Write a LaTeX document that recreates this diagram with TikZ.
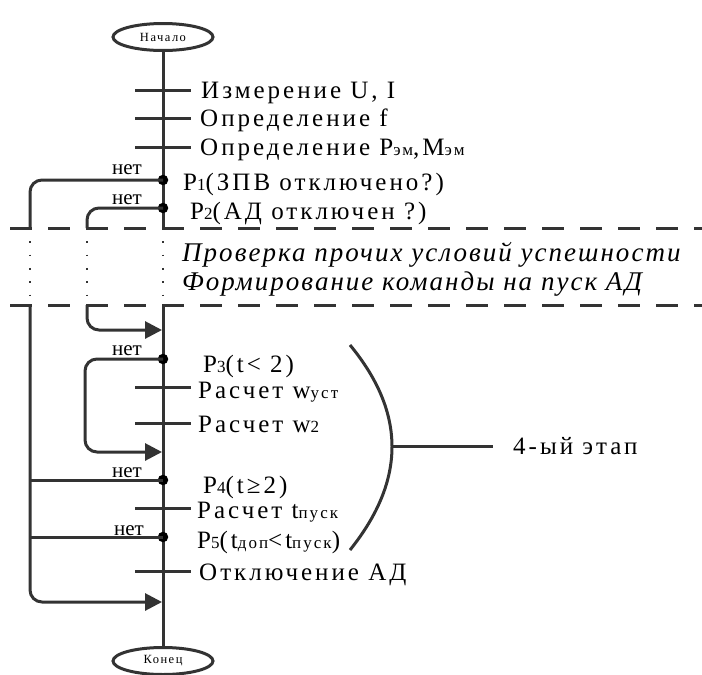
\documentclass[tikz,border=0pt]{standalone}
\usepackage{fontspec}
\setmainfont{Liberation Serif}
\newfontfamily\spc[LetterSpace=12]{Liberation Serif}
\newfontfamily\spit[LetterSpace=7.5]{Liberation Serif Italic}
\usetikzlibrary{arrows.meta,shapes.geometric}
\definecolor{ink}{HTML}{333333}
\newcommand\sbs[1]{{\fontsize{17}{17}\selectfont #1}}
\begin{document}
\begin{tikzpicture}[x=1pt,y=-1pt,
  ln/.style={line width=3pt, draw=ink},
  dotl/.style={line width=1.8pt, draw=ink, dash pattern=on 1.8pt off 11.5pt},
  dashl/.style={line width=3pt, draw=ink, dash pattern=on 22pt off 16pt, dash phase=28pt},
  arr/.style={-{Triangle[length=17pt,width=17pt]}},
  oval/.style={draw=ink, line width=3pt, ellipse, minimum width=100pt, minimum height=27pt, inner sep=0pt, font=\spc\fontsize{12.5}{12.5}\selectfont},
  dotn/.style={circle, fill=black, inner sep=0pt, minimum size=10.5pt},
  lbl/.style={anchor=base west, inner sep=0pt, font=\spc\fontsize{25}{25}\selectfont},
  net/.style={anchor=base, inner sep=0pt, font=\fontsize{21}{21}\selectfont},
  itl/.style={anchor=base west, inner sep=0pt, font=\spit\fontsize{27}{27}\selectfont},
  rc/.style={rounded corners=12pt}
]
\useasboundingbox (0,0) rectangle (702,675);
% terminals
\node[oval] (start) at (163,37) {Начало};
\node[oval] (stop) at (163,661) {Конец};
% main line
\coordinate (m1) at (163,228);
\coordinate (m2) at (163,305);
\draw[ln] (start) -- (m1);
\draw[dotl] (m1) -- (m2);
\draw[ln] (m2) -- (stop);
% dashed separators
\coordinate (d1a) at (0,228); \coordinate (d1b) at (702,228);
\coordinate (d2a) at (0,305); \coordinate (d2b) at (702,305);
\draw[dashl] (d1a) -- (d1b);
\draw[dashl] (d2a) -- (d2b);
% ticks
\foreach \y/\n in {90/ta,118/tb,147/tc,387/td,423/te,508/tf,571/tg}{
  \coordinate (\n l) at (135,\y); \coordinate (\n r) at (191,\y);
  \draw[ln] (\n l) -- (\n r);
}
% decision dots
\node[dotn] (p1) at (163,180) {};
\node[dotn] (p2) at (163,208) {};
\node[dotn] (p3) at (163,359) {};
\node[dotn] (p4) at (163,480) {};
\node[dotn] (p5) at (163,537) {};
% outer loop (x=30)
\coordinate (o1) at (30,180); \coordinate (o2) at (30,228);
\coordinate (o3) at (30,305); \coordinate (o4) at (30,602);
\coordinate (o5) at (162,602);
\draw[ln,rc] (p1.center) -- (o1) -- (o2);
\draw[dotl] (o2) -- (o3);
\draw[ln,rc,arr] (o3) -- (o4) -- (o5);
\coordinate (o6) at (30,480); \coordinate (o7) at (30,537);
\draw[ln] (o6) -- (p4.center);
\draw[ln] (o7) -- (p5.center);
% second loop (x=87)
\coordinate (i1) at (87,208); \coordinate (i2) at (87,228);
\coordinate (i3) at (87,305); \coordinate (i4) at (87,330);
\coordinate (i5) at (162,330);
\draw[ln,rc] (p2.center) -- (i1) -- (i2);
\draw[dotl] (i2) -- (i3);
\draw[ln,rc,arr] (i3) -- (i4) -- (i5);
% P3 loop (x=85)
\coordinate (k1) at (85,359); \coordinate (k2) at (85,452);
\coordinate (k3) at (162,452);
\draw[ln,rc,arr] (p3.center) -- (k1) -- (k2) -- (k3);
% "нет" labels
\node[net] (n1) at (127,174) {нет};
\node[net] (n2) at (127,204) {нет};
\node[net] (n3) at (127,355) {нет};
\node[net] (n4) at (127,477) {нет};
\node[net] (n5) at (129,535) {нет};
% texts
\node[lbl] (t1) at (201,98) {Измерение U, I};
\node[lbl] (t2) at (200,126) {Определение f};
\node[lbl] (t3) at (200,155) {Определение P\sbs{эм},M\sbs{эм}};
\node[lbl] (t4) at (183,190) {P\sbs{1}(ЗПВ отключено?)};
\node[lbl] (t5) at (190,219) {P\sbs{2}(АД отключен ?)};
\node[itl] (t6) at (182,261) {Проверка прочих условий успешности};
\node[itl] (t7) at (182,290) {Формирование команды на пуск АД};
\node[lbl] (t8) at (203,372) {P\sbs{3}(t< 2)};
\node[lbl] (t9) at (198,398) {Расчет w\sbs{уст}};
\node[lbl] (t10) at (198,432) {Расчет w\sbs{2}};
\node[lbl] (t11) at (203,493) {P\sbs{4}(t≥2)};
\node[lbl] (t12) at (197,518) {Расчет t\sbs{пуск}};
\node[lbl] (t13) at (197,548) {P\sbs{5}(t\sbs{доп}<t\sbs{пуск})};
\node[lbl] (t14) at (199,580) {Отключение АД};
% bracket
\coordinate (b1) at (350,345); \coordinate (b2) at (350,550);
\coordinate (bm) at (392,446); \coordinate (be) at (493,446);
\draw[ln] (b1) .. controls (406,413) and (406,480) .. (b2);
\draw[ln] (bm) -- (be);
\node[anchor=west, inner sep=0pt, font=\spc\fontsize{25}{25}\selectfont] (stage) at (513,446) {4-ый этап};
\end{tikzpicture}
\end{document}
